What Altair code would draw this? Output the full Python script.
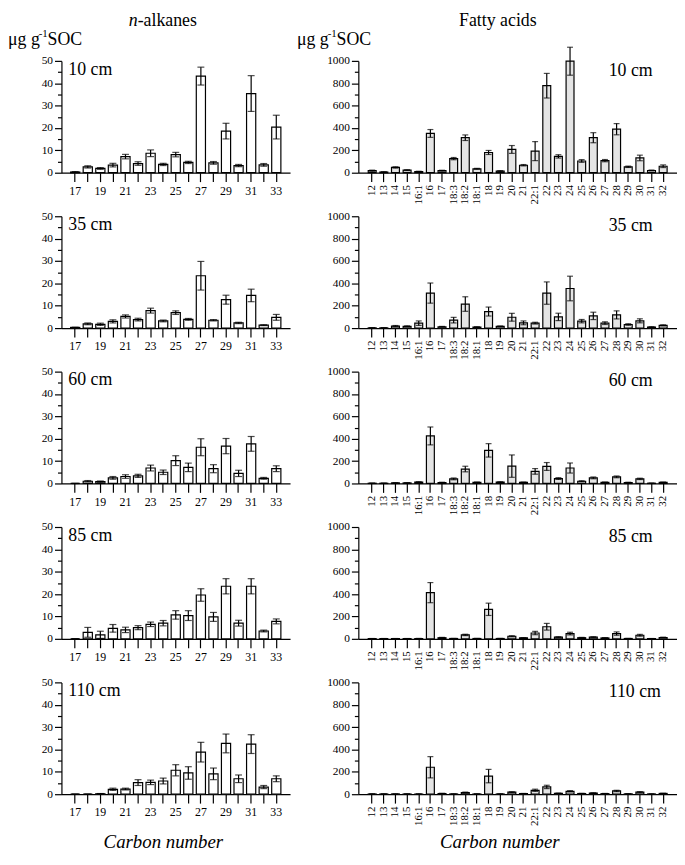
import altair as alt
import pandas as pd

FONT = "Liberation Serif, Times New Roman, serif"

depths = ["10 cm", "35 cm", "60 cm", "85 cm", "110 cm"]

# n-alkanes (carbon number 17-33), µg g-1 SOC
alk_carbons = [str(c) for c in range(17, 34)]
alk_10 = [0.3, 2.6, 1.9, 3.4, 7.2, 4.1, 8.7, 3.7, 8.1, 4.6, 43.2, 4.4, 18.6, 3.2, 35.4, 3.5, 20.4]
alk_10_err = [0.2, 0.5, 0.4, 0.8, 1.0, 0.8, 1.5, 0.5, 1.0, 0.5, 4.0, 0.6, 3.5, 0.5, 8.0, 0.6, 5.3]
alk_35 = [0.3, 1.9, 1.7, 3.0, 5.2, 3.8, 7.8, 3.2, 6.9, 3.9, 23.4, 3.5, 12.7, 2.3, 14.6, 1.3, 4.8]
alk_35_err = [0.1, 0.4, 0.5, 0.7, 0.7, 0.6, 1.1, 0.4, 0.8, 0.4, 6.4, 0.3, 2.0, 0.3, 2.8, 0.2, 1.3]
alk_60 = [0.0, 1.0, 0.8, 2.5, 3.1, 3.4, 6.9, 5.0, 10.2, 7.2, 16.2, 6.6, 16.7, 4.5, 17.7, 2.3, 6.6]
alk_60_err = [0.0, 0.3, 0.3, 0.6, 0.8, 0.7, 1.3, 1.0, 2.2, 1.9, 3.8, 1.8, 3.4, 1.4, 3.3, 0.4, 1.3]
alk_85 = [0.0, 2.9, 1.8, 4.7, 4.0, 5.0, 6.5, 7.0, 10.7, 10.4, 19.6, 9.8, 23.5, 7.0, 23.5, 3.5, 7.8]
alk_85_err = [0.0, 2.2, 1.6, 1.7, 1.2, 0.9, 1.0, 1.2, 1.9, 2.2, 2.8, 2.0, 3.4, 1.3, 3.4, 0.4, 1.1]
alk_110 = [0.0, 0.0, 0.2, 2.2, 2.3, 5.2, 5.3, 5.9, 10.7, 9.5, 18.8, 9.1, 22.7, 6.9, 22.4, 3.2, 6.9]
alk_110_err = [0.0, 0.0, 0.1, 0.5, 0.4, 1.3, 1.0, 1.3, 2.5, 2.8, 4.4, 2.6, 4.2, 1.7, 4.2, 0.7, 1.3]

# Fatty acids, µg g-1 SOC
fa_names = ["12", "13", "14", "15", "16:1", "16", "17", "18:3", "18:2", "18:1", "18", "19", "20",
            "21", "22:1", "22", "23", "24", "25", "26", "27", "28", "29", "30", "31", "32"]
fa_10 = [18, 6, 47, 23, 10, 351, 18, 126, 313, 35, 181, 15, 208, 67, 193, 778, 146, 997, 105, 313, 108, 389, 53, 132, 20, 58]
fa_10_err = [5, 3, 6, 4, 3, 35, 4, 10, 25, 4, 18, 3, 35, 6, 85, 110, 15, 125, 12, 45, 10, 50, 6, 25, 4, 12]
fa_35 = [2, 2, 18, 15, 44, 313, 12, 71, 215, 9, 148, 15, 97, 47, 44, 313, 100, 354, 62, 109, 44, 118, 32, 65, 9, 24]
fa_35_err = [1, 1, 5, 5, 20, 90, 3, 25, 65, 3, 40, 4, 35, 17, 8, 100, 33, 110, 15, 33, 12, 36, 7, 18, 3, 5]
fa_60 = [2, 2, 5, 5, 12, 425, 8, 41, 129, 10, 296, 12, 155, 10, 108, 152, 44, 138, 20, 50, 10, 59, 8, 41, 2, 10]
fa_60_err = [1, 1, 2, 2, 4, 80, 3, 8, 25, 3, 60, 3, 100, 3, 25, 35, 8, 45, 4, 8, 3, 8, 3, 6, 1, 3]
fa_85 = [2, 2, 2, 2, 3, 413, 10, 3, 35, 3, 264, 3, 23, 8, 52, 108, 15, 47, 10, 15, 8, 47, 3, 32, 2, 12]
fa_85_err = [1, 1, 1, 1, 1, 90, 3, 1, 6, 1, 55, 1, 5, 2, 15, 30, 4, 12, 3, 4, 2, 15, 1, 8, 1, 3]
fa_110 = [2, 2, 2, 2, 2, 241, 6, 2, 15, 2, 162, 2, 18, 5, 35, 65, 8, 26, 6, 10, 5, 29, 3, 18, 2, 7]
fa_110_err = [1, 1, 1, 1, 1, 95, 2, 1, 4, 1, 60, 1, 4, 2, 10, 15, 2, 6, 2, 3, 2, 6, 1, 5, 1, 2]

alk_series = [(alk_10, alk_10_err), (alk_35, alk_35_err), (alk_60, alk_60_err),
              (alk_85, alk_85_err), (alk_110, alk_110_err)]
fa_series = [(fa_10, fa_10_err), (fa_35, fa_35_err), (fa_60, fa_60_err),
             (fa_85, fa_85_err), (fa_110, fa_110_err)]

LW, RW, H = 231, 322, 113


def text_layer(t, x, y, size=18, align="left", style="normal", baseline="alphabetic"):
    return alt.Chart(pd.DataFrame({"t": [t]})).mark_text(
        font=FONT, fontSize=size, align=align, baseline=baseline, fontStyle=style, color="black"
    ).encode(text="t:N", x=alt.value(x), y=alt.value(y))


def panel(cats, vals, errs, left, depth, first, last):
    df = pd.DataFrame({
        "c": cats,
        "v": vals,
        "lo": [max(v - e, 0) for v, e in zip(vals, errs)],
        "hi": [v + e for v, e in zip(vals, errs)],
    })
    if left:
        xscale = alt.Scale(paddingInner=0.27, paddingOuter=0.73)
        xaxis = alt.Axis(title=None, labelAngle=0,
                         labelExpr="toNumber(datum.value) % 2 == 1 ? datum.label : ''",
                         tickSize=9, labelPadding=4, labelFontSize=12)
        ydom, ystep, ymaj, fill, capw = [0, 50], 5, 10, "white", 7
    else:
        xscale = alt.Scale(paddingInner=0.32, paddingOuter=0.85)
        xaxis = alt.Axis(title=None, labelAngle=270, labelAlign="right", labelBaseline="middle",
                         tickSize=9, labelPadding=3, labelFontSize=11)
        ydom, ystep, ymaj, fill, capw = [0, 1000], 100, 200, "#e4e4e4", 6
    yvalues = list(range(ydom[0], ydom[1] + 1, ystep))
    yaxis = alt.Axis(title=None, values=yvalues, format="d", grid=False,
                     labelExpr=f"datum.value % {ymaj} == 0 ? datum.label : ''",
                     tickSize={"condition": {"test": f"datum.value % {ymaj} == 0", "value": 7}, "value": 4},
                     labelPadding=2, labelFontSize=11.5)
    x = alt.X("c:N", sort=cats, scale=xscale, axis=xaxis)

    def yenc(f):
        return alt.Y(f, scale=alt.Scale(domain=ydom, nice=False), axis=yaxis)

    base = alt.Chart(df)
    bars = base.mark_bar(fill=fill, stroke="black", strokeWidth=1.2).encode(x=x, y=yenc("v:Q"))
    rule = base.mark_rule(color="black", strokeWidth=1.2).encode(x=x, y=yenc("lo:Q"), y2="hi:Q")
    cap_lo = base.mark_tick(color="black", thickness=1.2, size=capw).encode(x=x, y=yenc("lo:Q"))
    cap_hi = base.mark_tick(color="black", thickness=1.2, size=capw).encode(x=x, y=yenc("hi:Q"))
    layers = [bars, rule, cap_lo, cap_hi]
    if left:
        layers.append(text_layer(depth, 7, 14, size=18))
    else:
        layers.append(text_layer(depth, 253, 15, size=18))
    if first:
        if left:
            layers += [
                text_layer("n", 68, -35, size=18, style="italic"),
                text_layer("-alkanes", 77, -35, size=18),
                text_layer("μg g", -54, -16, size=18),
                text_layer("-1", -23, -24, size=11),
                text_layer("SOC", -14, -16, size=18),
            ]
        else:
            layers += [
                text_layer("Fatty acids", 141, -35, size=18, align="center"),
                text_layer("μg g", -62, -16, size=18),
                text_layer("-1", -31, -24, size=11),
                text_layer("SOC", -22, -16, size=18),
            ]
    if last:
        if left:
            layers.append(text_layer("Carbon number", 103, H + 54, size=19, align="center", style="italic"))
        else:
            layers.append(text_layer("Carbon number", 143, H + 54, size=19, align="center", style="italic"))
    return alt.layer(*layers).properties(width=LW if left else RW, height=H)


panels = []
for i, d in enumerate(depths):
    panels.append(panel(alk_carbons, alk_series[i][0], alk_series[i][1], True, d, i == 0, i == 4))
    panels.append(panel(fa_names, fa_series[i][0], fa_series[i][1], False, d, i == 0, i == 4))

chart = alt.concat(*panels, columns=2, spacing={"row": 44, "column": 69}, bounds="flush").configure_view(
    stroke=None
).configure_axis(
    labelFont=FONT, labelColor="black", domainColor="black", tickColor="black",
    domainWidth=1.2, tickWidth=1.2
).properties(padding=0)

chart.save("out.html", embed_options={"renderer": "svg", "actions": False})
